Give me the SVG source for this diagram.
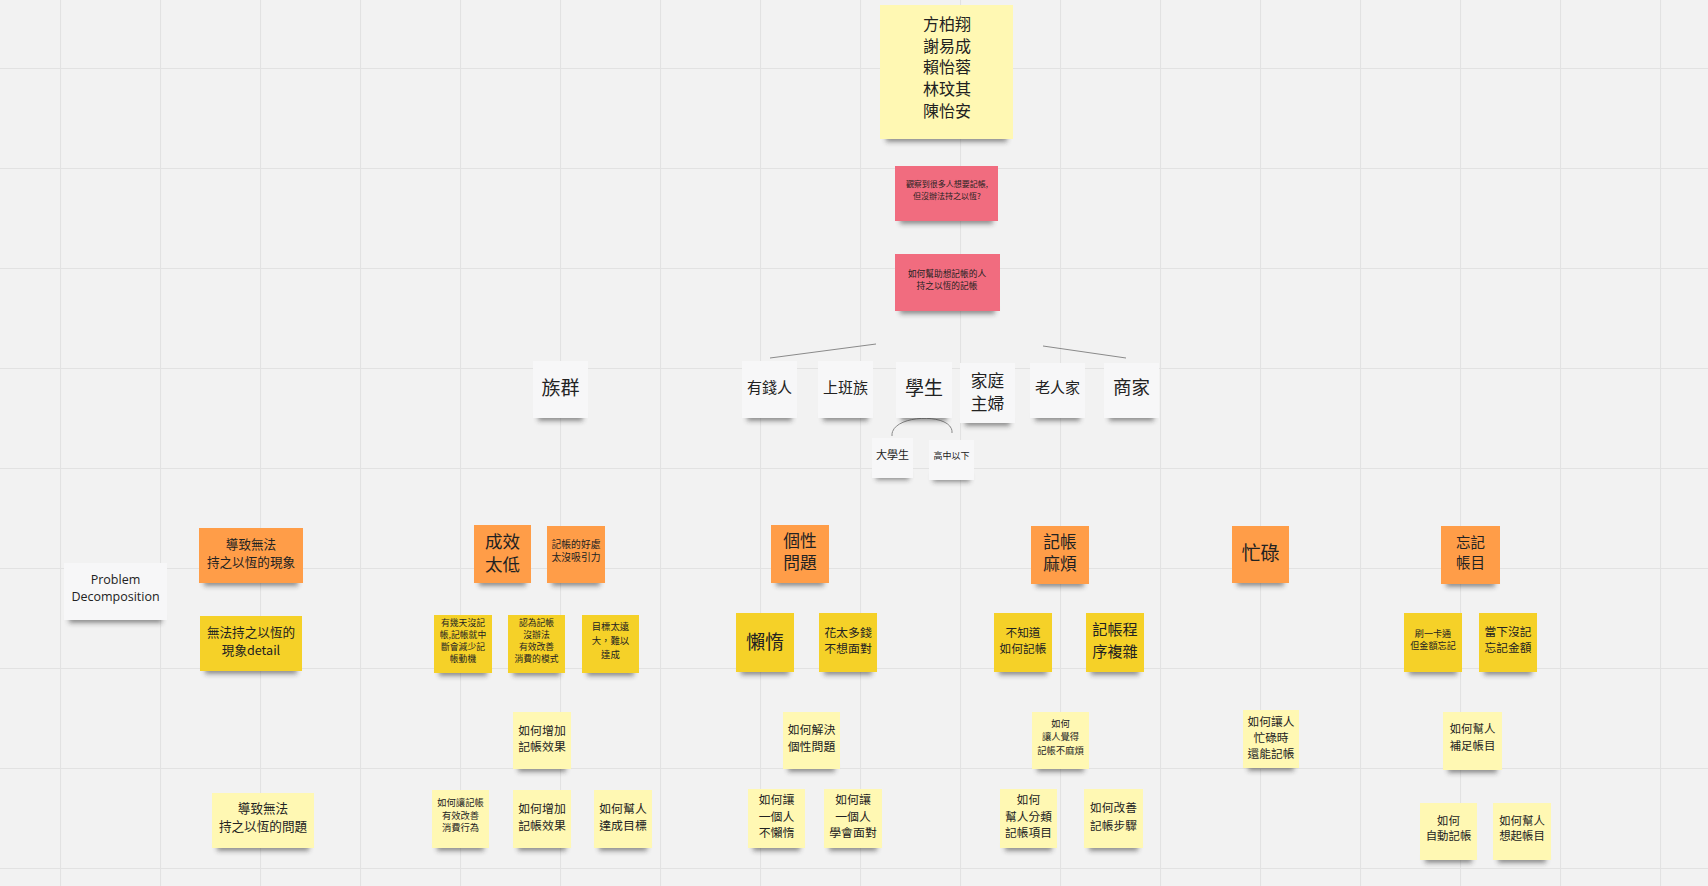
<svg xmlns="http://www.w3.org/2000/svg" width="1708" height="886" viewBox="0 0 1708 886">
<defs>
<pattern id="grid" x="60" y="68" width="100" height="100" patternUnits="userSpaceOnUse">
<path d="M0,0.5 H100 M0.5,0 V100" stroke="#e2e2e2" stroke-width="1.2" fill="none"/>
</pattern>
<filter id="sh" x="-20%" y="-100%" width="140%" height="300%"><feGaussianBlur stdDeviation="2.4"/></filter>
</defs>
<style>
.bg{fill:#f2f2f2}
.shd{fill:#2a2a2a;opacity:.5;filter:url(#sh)}
.ly{fill:#fff8b3}
.pk{fill:#f16c7f}
.or{fill:#ff9d48}
.ye{fill:#f5d128}
.wh{fill:#f7f7f8}
text{font-family:"Noto Sans CJK TC","Noto Sans",sans-serif;fill:#222;text-anchor:middle;dominant-baseline:central;transform:translateY(-2px)}
.en{font-family:"Open Sans","Noto Sans",sans-serif}
.cn{fill:none;stroke:#8a8a8a;stroke-width:1}
</style>
<rect class="bg" x="0" y="0" width="1708" height="886"/>
<rect fill="url(#grid)" x="0" y="0" width="1708" height="886"/>

<g id="connectors">
<path class="cn" d="M770,358 L876,344"/>
<path class="cn" d="M1043,346 L1126,358"/>
<path class="cn" d="M892,436 C890,414 954,412 952,433"/>
</g>

<g id="names">
<rect class="shd" x="886" y="131" width="121" height="11"/>
<rect class="ly" x="880" y="5" width="133" height="134"/>
<g font-size="16"><text x="947" y="25">方柏翔</text><text x="947" y="46.7">謝易成</text><text x="947" y="68.4">賴怡蓉</text><text x="947" y="90.1">林玟其</text><text x="947" y="111.8">陳怡安</text></g>
</g>
<g id="observe">
<rect class="shd" x="900" y="214" width="93" height="10"/>
<rect class="pk" x="895" y="166" width="103" height="55"/>
<g font-size="8"><text x="947" y="185">觀察到很多人想要記帳,</text><text x="947" y="197">但沒辦法持之以恆?</text></g>
</g>
<g id="howhelp">
<rect class="shd" x="900" y="304" width="95" height="10"/>
<rect class="pk" x="895" y="254" width="105" height="57"/>
<g font-size="8.7"><text x="947" y="275">如何幫助想記帳的人</text><text x="947" y="287">持之以恆的記帳</text></g>
</g>

<g id="group-label">
<rect class="shd" x="538" y="411" width="45" height="10"/>
<rect class="wh" x="533" y="361" width="55" height="57"/>
<text x="560.5" y="388" font-size="19">族群</text>
</g>
<g id="rich">
<rect class="shd" x="747" y="411" width="45" height="10"/>
<rect class="wh" x="742" y="361" width="55" height="57"/>
<text x="769.5" y="388" font-size="15">有錢人</text>
</g>
<g id="office">
<rect class="shd" x="823" y="411" width="45" height="10"/>
<rect class="wh" x="818" y="361" width="55" height="57"/>
<text x="845.5" y="388" font-size="15">上班族</text>
</g>
<g id="student">
<rect class="shd" x="901" y="411" width="46" height="10"/>
<rect class="wh" x="896" y="362" width="56" height="56"/>
<text x="924" y="388" font-size="19">學生</text>
</g>
<g id="housewife">
<rect class="shd" x="965" y="416" width="45" height="10"/>
<rect class="wh" x="960" y="363" width="55" height="60"/>
<g font-size="16.7"><text x="987.5" y="382">家庭</text><text x="987.5" y="405">主婦</text></g>
</g>
<g id="elderly">
<rect class="shd" x="1035" y="411" width="45" height="10"/>
<rect class="wh" x="1030" y="363" width="55" height="55"/>
<text x="1057.5" y="388" font-size="15">老人家</text>
</g>
<g id="merchant">
<rect class="shd" x="1109" y="411" width="45" height="10"/>
<rect class="wh" x="1104" y="363" width="55" height="55"/>
<text x="1131.5" y="388" font-size="18.5">商家</text>
</g>
<g id="college">
<rect class="shd" x="876" y="471" width="33" height="9"/>
<rect class="wh" x="872" y="438" width="41" height="40"/>
<text x="892.5" y="456" font-size="11">大學生</text>
</g>
<g id="highschool">
<rect class="shd" x="933" y="473" width="37" height="9"/>
<rect class="wh" x="929" y="440" width="45" height="40"/>
<text x="951.5" y="457" font-size="9">高中以下</text>
</g>

<g id="problem-decomposition">
<rect class="shd" x="69" y="613" width="93" height="10"/>
<rect class="wh" x="64" y="563" width="103" height="57"/>
<g class="en" font-size="12.5"><text class="en" x="115.5" y="581">Problem</text><text class="en" x="115.5" y="598">Decomposition</text></g>
</g>
<g id="cause-phenomenon">
<rect class="shd" x="204" y="576" width="94" height="10"/>
<rect class="or" x="199" y="528" width="104" height="55"/>
<g font-size="12.6"><text x="251" y="545">導致無法</text><text x="251" y="563">持之以恆的現象</text></g>
</g>
<g id="phenomenon-detail">
<rect class="shd" x="205" y="664" width="92" height="10"/>
<rect class="ye" x="200" y="616" width="102" height="55"/>
<g font-size="12.6"><text x="251" y="633">無法持之以恆的</text><text x="251" y="651">現象detail</text></g>
</g>

<g id="low-effect">
<rect class="shd" x="479" y="576" width="47" height="10"/>
<rect class="or" x="474" y="525" width="57" height="58"/>
<g font-size="17.5"><text x="502.5" y="542">成效</text><text x="502.5" y="565">太低</text></g>
</g>
<g id="benefit">
<rect class="shd" x="552" y="576" width="48" height="10"/>
<rect class="or" x="547" y="526" width="58" height="57"/>
<g font-size="9.8"><text x="576" y="546">記帳的好處</text><text x="576" y="559">太沒吸引力</text></g>
</g>
<g id="skip-days">
<rect class="shd" x="439" y="666" width="48" height="10"/>
<rect class="ye" x="434" y="615" width="58" height="58"/>
<g font-size="8.8"><text x="463" y="624">有幾天沒記</text><text x="463" y="636">帳,記帳就中</text><text x="463" y="648">斷會減少記</text><text x="463" y="660">帳動機</text></g>
</g>
<g id="no-improve">
<rect class="shd" x="513" y="666" width="47" height="10"/>
<rect class="ye" x="508" y="615" width="57" height="58"/>
<g font-size="8.8"><text x="536.5" y="624">認為記帳</text><text x="536.5" y="636">沒辦法</text><text x="536.5" y="648">有效改善</text><text x="536.5" y="660">消費的模式</text></g>
</g>
<g id="goal-far">
<rect class="shd" x="587" y="666" width="47" height="10"/>
<rect class="ye" x="582" y="615" width="57" height="58"/>
<g font-size="9.4"><text x="610.5" y="628">目標太遠</text><text x="610.5" y="642">大，難以</text><text x="610.5" y="656">達成</text></g>
</g>

<g id="personality">
<rect class="shd" x="776" y="576" width="48" height="10"/>
<rect class="or" x="771" y="525" width="58" height="58"/>
<g font-size="16.7"><text x="800" y="542">個性</text><text x="800" y="564">問題</text></g>
</g>
<g id="lazy">
<rect class="shd" x="741" y="665" width="48" height="10"/>
<rect class="ye" x="736" y="613" width="58" height="59"/>
<text x="765" y="642" font-size="19">懶惰</text>
</g>
<g id="spend-too-much">
<rect class="shd" x="824" y="665" width="48" height="10"/>
<rect class="ye" x="819" y="613" width="58" height="59"/>
<g font-size="11.9"><text x="848" y="633">花太多錢</text><text x="848" y="649">不想面對</text></g>
</g>

<g id="troublesome">
<rect class="shd" x="1036" y="577" width="48" height="10"/>
<rect class="or" x="1031" y="526" width="58" height="58"/>
<g font-size="16.7"><text x="1060" y="543">記帳</text><text x="1060" y="565">麻煩</text></g>
</g>
<g id="dont-know">
<rect class="shd" x="999" y="665" width="48" height="10"/>
<rect class="ye" x="994" y="613" width="58" height="59"/>
<g font-size="11.7"><text x="1023" y="633">不知道</text><text x="1023" y="649">如何記帳</text></g>
</g>
<g id="complex">
<rect class="shd" x="1091" y="665" width="48" height="10"/>
<rect class="ye" x="1086" y="613" width="58" height="59"/>
<g font-size="15.2"><text x="1115" y="630">記帳程</text><text x="1115" y="652">序複雜</text></g>
</g>

<g id="busy">
<rect class="shd" x="1237" y="576" width="47" height="10"/>
<rect class="or" x="1232" y="526" width="57" height="57"/>
<text x="1260.5" y="553" font-size="19">忙碌</text>
</g>
<g id="forget">
<rect class="shd" x="1446" y="577" width="49" height="10"/>
<rect class="or" x="1441" y="526" width="59" height="58"/>
<g font-size="14.5"><text x="1470.5" y="543">忘記</text><text x="1470.5" y="563">帳目</text></g>
</g>
<g id="card">
<rect class="shd" x="1409" y="665" width="48" height="10"/>
<rect class="ye" x="1404" y="613" width="58" height="59"/>
<g font-size="9.1"><text x="1433" y="635">刷一卡通</text><text x="1433" y="647">但金額忘記</text></g>
</g>
<g id="not-recorded">
<rect class="shd" x="1484" y="665" width="48" height="10"/>
<rect class="ye" x="1479" y="613" width="58" height="59"/>
<g font-size="11.7"><text x="1508" y="632">當下沒記</text><text x="1508" y="648">忘記金額</text></g>
</g>

<g id="how-effect-top">
<rect class="shd" x="518" y="762" width="48" height="10"/>
<rect class="ly" x="513" y="712" width="58" height="57"/>
<g font-size="11.9"><text x="542" y="731">如何增加</text><text x="542" y="747">記帳效果</text></g>
</g>
<g id="cause-problem">
<rect class="shd" x="217" y="841" width="92" height="10"/>
<rect class="ly" x="212" y="793" width="102" height="55"/>
<g font-size="12.6"><text x="263" y="809">導致無法</text><text x="263" y="827">持之以恆的問題</text></g>
</g>
<g id="how-improve-spending">
<rect class="shd" x="437" y="841" width="47" height="10"/>
<rect class="ly" x="432" y="790" width="57" height="58"/>
<g font-size="9.3"><text x="460.5" y="804">如何讓記帳</text><text x="460.5" y="817">有效改善</text><text x="460.5" y="829">消費行為</text></g>
</g>
<g id="how-effect-bottom">
<rect class="shd" x="518" y="841" width="48" height="10"/>
<rect class="ly" x="513" y="790" width="58" height="58"/>
<g font-size="11.9"><text x="542" y="809">如何增加</text><text x="542" y="826">記帳效果</text></g>
</g>
<g id="how-goal">
<rect class="shd" x="599" y="841" width="48" height="10"/>
<rect class="ly" x="594" y="790" width="58" height="58"/>
<g font-size="11.9"><text x="623" y="809">如何幫人</text><text x="623" y="826">達成目標</text></g>
</g>

<g id="how-personality">
<rect class="shd" x="788" y="762" width="47" height="10"/>
<rect class="ly" x="783" y="712" width="57" height="57"/>
<g font-size="11.9"><text x="811.5" y="730">如何解決</text><text x="811.5" y="747">個性問題</text></g>
</g>
<g id="how-not-lazy">
<rect class="shd" x="753" y="841" width="47" height="10"/>
<rect class="ly" x="748" y="789" width="57" height="59"/>
<g font-size="11.9"><text x="776.5" y="800">如何讓</text><text x="776.5" y="817">一個人</text><text x="776.5" y="833">不懶惰</text></g>
</g>
<g id="how-face">
<rect class="shd" x="829" y="841" width="48" height="10"/>
<rect class="ly" x="824" y="789" width="58" height="59"/>
<g font-size="11.9"><text x="853" y="800">如何讓</text><text x="853" y="817">一個人</text><text x="853" y="833">學會面對</text></g>
</g>

<g id="how-not-troublesome">
<rect class="shd" x="1037" y="762" width="47" height="10"/>
<rect class="ly" x="1032" y="712" width="57" height="57"/>
<g font-size="9.3"><text x="1060.5" y="725">如何</text><text x="1060.5" y="738">讓人覺得</text><text x="1060.5" y="752">記帳不麻煩</text></g>
</g>
<g id="how-classify">
<rect class="shd" x="1005" y="841" width="47" height="10"/>
<rect class="ly" x="1000" y="789" width="57" height="59"/>
<g font-size="11.7"><text x="1028.5" y="800">如何</text><text x="1028.5" y="817">幫人分類</text><text x="1028.5" y="833">記帳項目</text></g>
</g>
<g id="how-steps">
<rect class="shd" x="1089" y="841" width="49" height="10"/>
<rect class="ly" x="1084" y="789" width="59" height="59"/>
<g font-size="11.7"><text x="1113.5" y="808">如何改善</text><text x="1113.5" y="826">記帳步驟</text></g>
</g>

<g id="how-busy">
<rect class="shd" x="1248" y="761" width="46" height="10"/>
<rect class="ly" x="1243" y="710" width="56" height="58"/>
<g font-size="11.7"><text x="1271" y="722">如何讓人</text><text x="1271" y="738">忙碌時</text><text x="1271" y="754">還能記帳</text></g>
</g>
<g id="how-complete">
<rect class="shd" x="1448" y="763" width="49" height="10"/>
<rect class="ly" x="1443" y="712" width="59" height="58"/>
<g font-size="11.4"><text x="1472.5" y="730">如何幫人</text><text x="1472.5" y="747">補足帳目</text></g>
</g>
<g id="how-auto">
<rect class="shd" x="1425" y="853" width="47" height="10"/>
<rect class="ly" x="1420" y="803" width="57" height="57"/>
<g font-size="11.4"><text x="1448.5" y="822">如何</text><text x="1448.5" y="837">自動記帳</text></g>
</g>
<g id="how-remember">
<rect class="shd" x="1498" y="853" width="48" height="10"/>
<rect class="ly" x="1493" y="803" width="58" height="57"/>
<g font-size="11.4"><text x="1522" y="822">如何幫人</text><text x="1522" y="837">想起帳目</text></g>
</g>
</svg>
